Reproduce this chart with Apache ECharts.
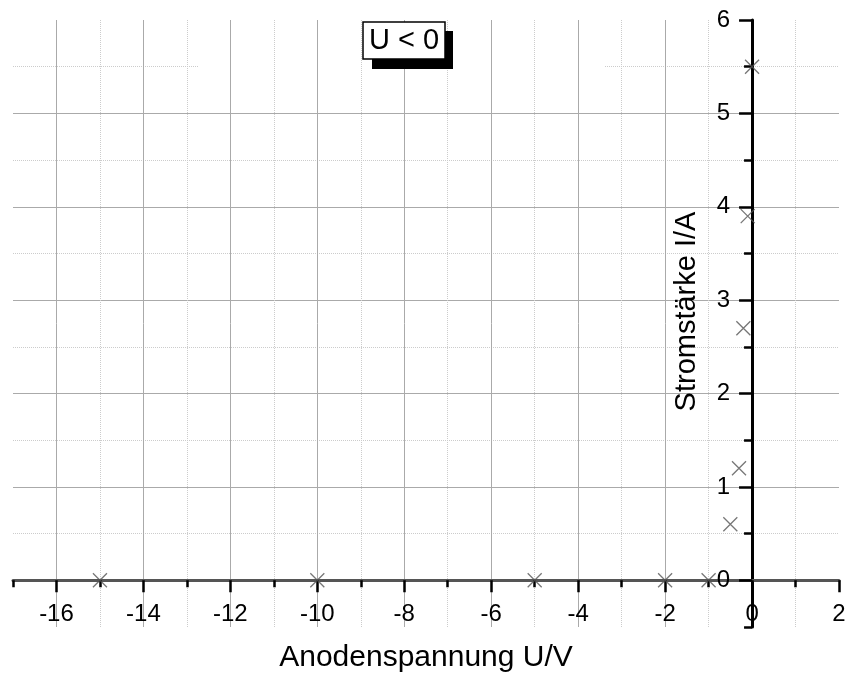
<!DOCTYPE html>
<html>
<head>
<meta charset="utf-8">
<script src="https://cdn.jsdelivr.net/npm/echarts@6/dist/echarts.min.js"></script>
<style>
html,body{margin:0;padding:0;background:#fff;}
#chart{width:849px;height:680px;}
</style>
</head>
<body>
<div id="chart"></div>
<script>
// Data
const voltage = [-15, -10, -5, -2, -1, -0.5, -0.3, -0.2, -0.1, 0];
const current = [0, 0, 0, 0, 0, 0.6, 1.2, 2.7, 3.9, 5.5];

// Axis ticks
const xMajorTicks = [-16, -14, -12, -10, -8, -6, -4, -2, 0, 2];
const xMinorTicks = [-17, -15, -13, -11, -9, -7, -5, -3, -1, 1];
const yMajorTicks = [0, 1, 2, 3, 4, 5, 6];
const yMinorTicks = [-0.5, 0.5, 1.5, 2.5, 3.5, 4.5, 5.5];

const xTitle = 'Anodenspannung U/V';
const yTitle = 'Stromstärke I/A';
const legendText = 'U < 0';

const X_MIN = -17, X_MAX = 2, Y_MIN = -0.5, Y_MAX = 6;
const G_LEFT = 13, G_RIGHT = 10, G_TOP = 20, G_BOTTOM = 53;
const W = 849, H = 680;
const gridW = W - G_LEFT - G_RIGHT, gridH = H - G_TOP - G_BOTTOM;
// axes cross at zero: shift them from the grid edge to the zero line
const xAxisOffset = -gridH * (0 - Y_MIN) / (Y_MAX - Y_MIN);
const yAxisOffset = -gridW * (0 - X_MIN) / (X_MAX - X_MIN);

const FONT = "'Liberation Sans', Arial, sans-serif";
const chart = echarts.init(document.getElementById('chart'));

const points = voltage.map((v, i) => [v, current[i]]);

chart.setOption({
  animation: false,
  backgroundColor: '#ffffff',
  textStyle: { fontFamily: FONT },
  grid: { left: G_LEFT, right: G_RIGHT, top: G_TOP, bottom: G_BOTTOM, containLabel: false, outerBoundsMode: 'none' },
  xAxis: [
    {
      type: 'value', min: X_MIN, max: X_MAX, interval: 1, position: 'bottom', offset: xAxisOffset, z: 5,
      name: xTitle, nameLocation: 'middle', nameGap: 62, nameMoveOverlap: false,
      nameTextStyle: { fontSize: 30, color: '#000', fontFamily: FONT },
      axisLine: { show: true, onZero: false, lineStyle: { color: '#555', width: 3 } },
      axisTick: { show: true, inside: false, length: 12, customValues: xMajorTicks,
        lineStyle: { color: '#000', width: 2.5 } },
      axisLabel: { show: true, customValues: xMajorTicks, margin: 22, fontSize: 24, color: '#000', fontFamily: FONT },
      splitLine: { show: true, showMinLine: true, showMaxLine: false, lineStyle: { color: '#aaaaaa', width: 1, type: 'solid' } }
    },
    {
      type: 'value', min: X_MIN, max: X_MAX, interval: 1, position: 'bottom', offset: xAxisOffset, z: 5,
      axisLine: { show: false, onZero: false },
      axisTick: { show: true, inside: false, length: 7, customValues: xMinorTicks,
        lineStyle: { color: '#000', width: 2.5 } },
      axisLabel: { show: false },
      splitLine: { show: true, showMinLine: false, showMaxLine: true, lineStyle: { color: '#cccccc', width: 1, type: [1, 1] } }
    }
  ],
  yAxis: [
    {
      type: 'value', min: Y_MIN, max: Y_MAX, interval: 0.5, position: 'left', offset: yAxisOffset, z: 5,
      name: yTitle, nameLocation: 'middle', nameGap: 51, nameRotate: 90, nameMoveOverlap: false,
      nameTextStyle: { fontSize: 29, color: '#000', fontFamily: FONT, padding: [0, 0, 0, 24] },
      axisLine: { show: true, onZero: false, lineStyle: { color: '#000', width: 3 } },
      axisTick: { show: true, inside: false, length: 13, customValues: yMajorTicks,
        lineStyle: { color: '#000', width: 2.5 } },
      axisLabel: { show: true, customValues: yMajorTicks, margin: 22, fontSize: 24, color: '#000', fontFamily: FONT },
      splitLine: { show: true, showMinLine: false, showMaxLine: false, lineStyle: { color: '#aaaaaa', width: 1, type: 'solid' } }
    },
    {
      type: 'value', min: Y_MIN, max: Y_MAX, interval: 0.5, position: 'left', offset: yAxisOffset, z: 1,
      axisLine: { show: false, onZero: false },
      axisTick: { show: true, inside: false, length: 8, customValues: yMinorTicks,
        lineStyle: { color: '#000', width: 2.5 } },
      axisLabel: { show: false },
      splitLine: { show: true, showMinLine: false, showMaxLine: true, lineStyle: { color: '#cccccc', width: 1, type: [1, 1] } }
    }
  ],
  graphic: [
    { type: 'rect', z: 2, silent: true, shape: { x: 199, y: 64, width: 405, height: 6 }, style: { fill: '#ffffff' } },
    { type: 'rect', z: 100, silent: true, shape: { x: 372, y: 31, width: 81, height: 38 }, style: { fill: '#000000' } },
    { type: 'rect', z: 101, silent: true, shape: { x: 363, y: 22, width: 82, height: 37 }, style: { fill: '#ffffff', stroke: '#000000', lineWidth: 1.5 } },
    { type: 'text', z: 102, silent: true, x: 404, y: 41,
      style: { text: legendText, font: "29px 'Liberation Sans', Arial, sans-serif", fill: '#000', align: 'center', verticalAlign: 'middle' } }
  ],
  series: [
    {
      type: 'scatter', xAxisIndex: 0, yAxisIndex: 0, z: 10,
      data: points,
      symbol: 'path://M0,0L10,10M10,0L0,10',
      symbolSize: 14,
      itemStyle: { color: 'none', borderColor: '#555555', borderWidth: 1.3 }
    }
  ]
});
</script>
</body>
</html>
